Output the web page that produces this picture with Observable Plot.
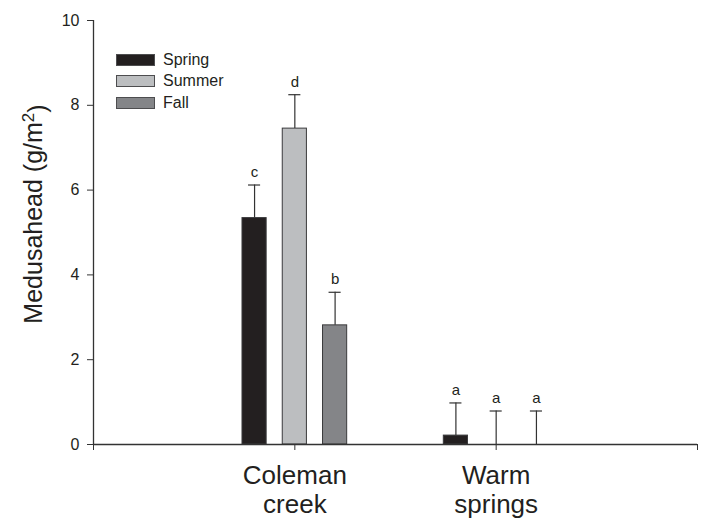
<!DOCTYPE html>
<html>
<head>
<meta charset="utf-8">
<script src="https://cdn.jsdelivr.net/npm/d3@7"></script>
<script src="https://cdn.jsdelivr.net/npm/@observablehq/plot@0.6"></script>
<style>
  html, body { margin: 0; padding: 0; background: #fff; }
  #wrap { position: relative; width: 707px; height: 519px; font-family: "Liberation Sans", Arial, sans-serif; }
  #legend { position: absolute; left: 116px; top: 49px; font-size: 16px; color: #231f20; }
  .item { display: flex; align-items: center; height: 21.5px; }
  .sw { width: 37px; height: 10px; border: 1px solid #4d4d4f; margin-right: 8px; }
</style>
</head>
<body>
<div id="wrap"></div>
<script>
const sites = ["Coleman\ncreek", "Warm\nsprings"];
const seasons = ["Spring", "Summer", "Fall"];
const colors = ["#231f20", "#bcbec0", "#848588"];
const means = [[5.34, 7.45, 2.81], [0.21, 0, 0]];
const errors = [[0.78, 0.80, 0.78], [0.77, 0.79, 0.79]];
const letters = [["c", "d", "b"], ["a", "a", "a"]];
const yTicks = [0, 2, 4, 6, 8, 10];

const data = [];
sites.forEach((site, i) => seasons.forEach((season, j) => {
  data.push({site, season, pos: i + 1 + (j - 1) * 0.2, value: means[i][j], err: errors[i][j], letter: letters[i][j]});
}));
const halfW = 0.06, capW = 0.03;
const ink = "#333";

const chart = Plot.plot({
  width: 707, height: 519,
  marginLeft: 93, marginRight: 10, marginTop: 20, marginBottom: 75,
  style: {fontFamily: "Liberation Sans, Arial, sans-serif", color: "#231f20", background: "#fff"},
  x: {type: "linear", domain: [0, 3]},
  y: {domain: [0, 10]},
  color: {domain: seasons, range: colors},
  marks: [
    Plot.rectY(data, {x1: d => d.pos - halfW, x2: d => d.pos + halfW, y: "value", fill: "season", stroke: "#3a3a3c", strokeWidth: 1}),
    Plot.ruleX(data, {x: "pos", y1: "value", y2: d => d.value + d.err, stroke: ink, strokeWidth: 1.2}),
    Plot.ruleY(data, {y: d => d.value + d.err, x1: d => d.pos - capW, x2: d => d.pos + capW, stroke: ink, strokeWidth: 1.2}),
    Plot.text(data, {x: "pos", y: d => d.value + d.err, text: "letter", dy: -13, fontSize: 15, fill: "#231f20"}),
    Plot.ruleX([0], {y1: 0, y2: 10, stroke: ink, strokeWidth: 1.3}),
    Plot.ruleY([0], {stroke: ink, strokeWidth: 1.3}),
    Plot.axisY({ticks: yTicks, tickSize: 6, tickPadding: 8, fontSize: 16, label: null, stroke: ink}),
    Plot.axisX({ticks: [0, 1, 2, 3], tickFormat: d => d === 1 ? sites[0] : d === 2 ? sites[1] : "", tickSize: 6, tickPadding: 14, fontSize: 26, lineHeight: 1.08, label: null, stroke: ink})
  ]
});

const svg = d3.select(chart);
const lab = svg.append("text")
  .attr("transform", "translate(42,214) rotate(-90)")
  .attr("text-anchor", "middle")
  .attr("font-size", 25)
  .attr("fill", "#231f20")
  .attr("font-family", "Liberation Sans, Arial, sans-serif");
lab.append("tspan").text("Medusahead (g/m");
lab.append("tspan").attr("dy", "-0.45em").attr("font-size", 17).text("2");
lab.append("tspan").attr("dy", "0.45em").text(")");

const wrap = document.getElementById("wrap");
wrap.appendChild(chart);

const legend = document.createElement("div");
legend.id = "legend";
seasons.forEach((s, i) => {
  const it = document.createElement("div");
  it.className = "item";
  const sw = document.createElement("div");
  sw.className = "sw";
  sw.style.background = colors[i];
  const t = document.createElement("span");
  t.textContent = s;
  it.appendChild(sw); it.appendChild(t);
  legend.appendChild(it);
});
wrap.appendChild(legend);
</script>
</body>
</html>
